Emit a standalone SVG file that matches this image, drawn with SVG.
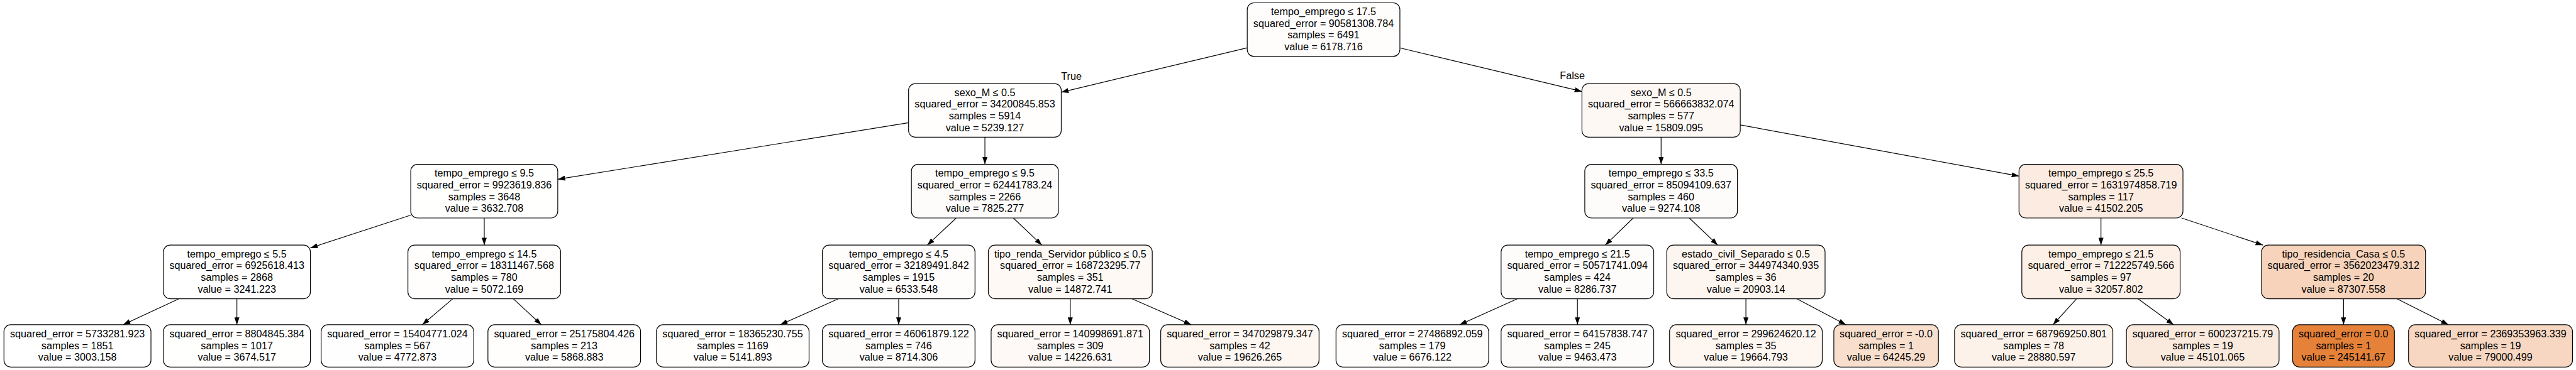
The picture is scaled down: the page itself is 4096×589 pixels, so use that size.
<svg xmlns="http://www.w3.org/2000/svg" width="4096" height="589" viewBox="0 0 4096 589">
<style>
.n rect{stroke:#000;stroke-width:1.3}
text{font-family:"Liberation Sans",Arial,Helvetica,sans-serif;font-size:18px;text-anchor:middle;fill:#000}
.e line{stroke:#000;stroke-width:1.3;marker-end:url(#ah)}
</style>
<defs>
<marker id="ah" markerUnits="userSpaceOnUse" markerWidth="13" markerHeight="9" refX="13" refY="4.5" orient="auto" viewBox="0 0 13 9"><path d="M0,0 L13,4.5 L0,9 z" fill="#000"/></marker>
</defs>
<rect width="4096" height="589" fill="#fff"/>
<g transform="scale(0.899)">
<g id="edges" class="e">
<line x1="2206" y1="84.7" x2="1877" y2="163.3"/>
<line x1="2476" y1="84.8" x2="2798" y2="162"/>
<line x1="1607" y1="217.3" x2="986.5" y2="317.5"/>
<line x1="1742" y1="243" x2="1742" y2="291"/>
<line x1="2938" y1="243" x2="2938" y2="291"/>
<line x1="3078" y1="221.2" x2="3571" y2="311.8"/>
<line x1="726.5" y1="381" x2="549" y2="439"/>
<line x1="856.5" y1="386" x2="856.5" y2="434"/>
<line x1="1691.4" y1="386" x2="1640.1" y2="434"/>
<line x1="1792.2" y1="386" x2="1842.8" y2="434"/>
<line x1="2888.8" y1="386" x2="2839.2" y2="434"/>
<line x1="2987.8" y1="386" x2="3038.2" y2="434"/>
<line x1="3716" y1="386" x2="3716" y2="434"/>
<line x1="3858.5" y1="386" x2="4002.5" y2="434"/>
<line x1="316.7" y1="529" x2="217.7" y2="575"/>
<line x1="419" y1="529" x2="419" y2="575"/>
<line x1="800.8" y1="529" x2="746.9" y2="575"/>
<line x1="907.8" y1="529" x2="957.5" y2="575"/>
<line x1="1483.1" y1="529" x2="1380" y2="575"/>
<line x1="1589.5" y1="529" x2="1589.5" y2="575"/>
<line x1="1893" y1="529" x2="1893" y2="575"/>
<line x1="2001.8" y1="529" x2="2107.1" y2="575"/>
<line x1="2684.1" y1="529" x2="2581.6" y2="575"/>
<line x1="2790" y1="529" x2="2790" y2="575"/>
<line x1="3088" y1="529" x2="3088" y2="575"/>
<line x1="3177.9" y1="529" x2="3265" y2="575"/>
<line x1="3672.9" y1="529" x2="3631.1" y2="575"/>
<line x1="3781.3" y1="529" x2="3844.5" y2="575"/>
<line x1="4145" y1="529" x2="4145" y2="575"/>
<line x1="4239.3" y1="529" x2="4330.6" y2="575"/>
<text x="1895" y="141">True</text>
<text x="2781" y="140">False</text>
</g>
<g id="n0" class="n"><rect x="2206" y="5" width="270" height="95" rx="12" fill="#fffdfc"/><text><tspan x="2341" y="26.8">tempo_emprego ≤ 17.5</tspan><tspan x="2341" y="47.6">squared_error = 90581308.784</tspan><tspan x="2341" y="68.4">samples = 6491</tspan><tspan x="2341" y="89.2">value = 6178.716</tspan></text></g>
<g id="n1" class="n"><rect x="1607" y="148" width="270" height="95" rx="12" fill="#fffefd"/><text><tspan x="1742" y="169.8">sexo_M ≤ 0.5</tspan><tspan x="1742" y="190.6">squared_error = 34200845.853</tspan><tspan x="1742" y="211.4">samples = 5914</tspan><tspan x="1742" y="232.2">value = 5239.127</tspan></text></g>
<g id="n2" class="n"><rect x="726.5" y="291" width="260" height="95" rx="12" fill="#fffffe"/><text><tspan x="856.5" y="312.8">tempo_emprego ≤ 9.5</tspan><tspan x="856.5" y="333.6">squared_error = 9923619.836</tspan><tspan x="856.5" y="354.4">samples = 3648</tspan><tspan x="856.5" y="375.2">value = 3632.708</tspan></text></g>
<g id="n3" class="n"><rect x="289" y="434" width="260" height="95" rx="12" fill="#ffffff"/><text><tspan x="419" y="455.8">tempo_emprego ≤ 5.5</tspan><tspan x="419" y="476.6">squared_error = 6925618.413</tspan><tspan x="419" y="497.4">samples = 2868</tspan><tspan x="419" y="518.2">value = 3241.223</tspan></text></g>
<g id="n4" class="n"><rect x="7" y="575" width="260" height="75" rx="12" fill="#ffffff"/><text><tspan x="137" y="597.2">squared_error = 5733281.923</tspan><tspan x="137" y="618">samples = 1851</tspan><tspan x="137" y="638.8">value = 3003.158</tspan></text></g>
<g id="n5" class="n"><rect x="289" y="575" width="260" height="75" rx="12" fill="#fffffe"/><text><tspan x="419" y="597.2">squared_error = 8804845.384</tspan><tspan x="419" y="618">samples = 1017</tspan><tspan x="419" y="638.8">value = 3674.517</tspan></text></g>
<g id="n6" class="n"><rect x="721.5" y="434" width="270" height="95" rx="12" fill="#fffefd"/><text><tspan x="856.5" y="455.8">tempo_emprego ≤ 14.5</tspan><tspan x="856.5" y="476.6">squared_error = 18311467.568</tspan><tspan x="856.5" y="497.4">samples = 780</tspan><tspan x="856.5" y="518.2">value = 5072.169</tspan></text></g>
<g id="n7" class="n"><rect x="568" y="575" width="270" height="75" rx="12" fill="#fffefe"/><text><tspan x="703" y="597.2">squared_error = 15404771.024</tspan><tspan x="703" y="618">samples = 567</tspan><tspan x="703" y="638.8">value = 4772.873</tspan></text></g>
<g id="n8" class="n"><rect x="863" y="575" width="270" height="75" rx="12" fill="#fffefd"/><text><tspan x="998" y="597.2">squared_error = 25175804.426</tspan><tspan x="998" y="618">samples = 213</tspan><tspan x="998" y="638.8">value = 5868.883</tspan></text></g>
<g id="n9" class="n"><rect x="1612" y="291" width="260" height="95" rx="12" fill="#fefcfb"/><text><tspan x="1742" y="312.8">tempo_emprego ≤ 9.5</tspan><tspan x="1742" y="333.6">squared_error = 62441783.24</tspan><tspan x="1742" y="354.4">samples = 2266</tspan><tspan x="1742" y="375.2">value = 7825.277</tspan></text></g>
<g id="n10" class="n"><rect x="1454.5" y="434" width="270" height="95" rx="12" fill="#fffdfc"/><text><tspan x="1589.5" y="455.8">tempo_emprego ≤ 4.5</tspan><tspan x="1589.5" y="476.6">squared_error = 32189491.842</tspan><tspan x="1589.5" y="497.4">samples = 1915</tspan><tspan x="1589.5" y="518.2">value = 6533.548</tspan></text></g>
<g id="n11" class="n"><rect x="1161" y="575" width="270" height="75" rx="12" fill="#fffefd"/><text><tspan x="1296" y="597.2">squared_error = 18365230.755</tspan><tspan x="1296" y="618">samples = 1169</tspan><tspan x="1296" y="638.8">value = 5141.893</tspan></text></g>
<g id="n12" class="n"><rect x="1454.5" y="575" width="270" height="75" rx="12" fill="#fefcfa"/><text><tspan x="1589.5" y="597.2">squared_error = 46061879.122</tspan><tspan x="1589.5" y="618">samples = 746</tspan><tspan x="1589.5" y="638.8">value = 8714.306</tspan></text></g>
<g id="n13" class="n"><rect x="1748" y="434" width="290" height="95" rx="12" fill="#fef9f5"/><text><tspan x="1893" y="455.8">tipo_renda_Servidor público ≤ 0.5</tspan><tspan x="1893" y="476.6">squared_error = 168723295.77</tspan><tspan x="1893" y="497.4">samples = 351</tspan><tspan x="1893" y="518.2">value = 14872.741</tspan></text></g>
<g id="n14" class="n"><rect x="1753" y="575" width="280" height="75" rx="12" fill="#fef9f6"/><text><tspan x="1893" y="597.2">squared_error = 140998691.871</tspan><tspan x="1893" y="618">samples = 309</tspan><tspan x="1893" y="638.8">value = 14226.631</tspan></text></g>
<g id="n15" class="n"><rect x="2053" y="575" width="280" height="75" rx="12" fill="#fdf6f1"/><text><tspan x="2193" y="597.2">squared_error = 347029879.347</tspan><tspan x="2193" y="618">samples = 42</tspan><tspan x="2193" y="638.8">value = 19626.265</tspan></text></g>
<g id="n16" class="n"><rect x="2798" y="148" width="280" height="95" rx="12" fill="#fef8f5"/><text><tspan x="2938" y="169.8">sexo_M ≤ 0.5</tspan><tspan x="2938" y="190.6">squared_error = 566663832.074</tspan><tspan x="2938" y="211.4">samples = 577</tspan><tspan x="2938" y="232.2">value = 15809.095</tspan></text></g>
<g id="n17" class="n"><rect x="2803" y="291" width="270" height="95" rx="12" fill="#fefcfa"/><text><tspan x="2938" y="312.8">tempo_emprego ≤ 33.5</tspan><tspan x="2938" y="333.6">squared_error = 85094109.637</tspan><tspan x="2938" y="354.4">samples = 460</tspan><tspan x="2938" y="375.2">value = 9274.108</tspan></text></g>
<g id="n18" class="n"><rect x="2655" y="434" width="270" height="95" rx="12" fill="#fefcfb"/><text><tspan x="2790" y="455.8">tempo_emprego ≤ 21.5</tspan><tspan x="2790" y="476.6">squared_error = 50571741.094</tspan><tspan x="2790" y="497.4">samples = 424</tspan><tspan x="2790" y="518.2">value = 8286.737</tspan></text></g>
<g id="n19" class="n"><rect x="2363" y="575" width="270" height="75" rx="12" fill="#fffdfc"/><text><tspan x="2498" y="597.2">squared_error = 27486892.059</tspan><tspan x="2498" y="618">samples = 179</tspan><tspan x="2498" y="638.8">value = 6676.122</tspan></text></g>
<g id="n20" class="n"><rect x="2655" y="575" width="270" height="75" rx="12" fill="#fefcfa"/><text><tspan x="2790" y="597.2">squared_error = 64157838.747</tspan><tspan x="2790" y="618">samples = 245</tspan><tspan x="2790" y="638.8">value = 9463.473</tspan></text></g>
<g id="n21" class="n"><rect x="2948" y="434" width="280" height="95" rx="12" fill="#fdf6f0"/><text><tspan x="3088" y="455.8">estado_civil_Separado ≤ 0.5</tspan><tspan x="3088" y="476.6">squared_error = 344974340.935</tspan><tspan x="3088" y="497.4">samples = 36</tspan><tspan x="3088" y="518.2">value = 20903.14</tspan></text></g>
<g id="n22" class="n"><rect x="2953" y="575" width="270" height="75" rx="12" fill="#fdf6f1"/><text><tspan x="3088" y="597.2">squared_error = 299624620.12</tspan><tspan x="3088" y="618">samples = 35</tspan><tspan x="3088" y="638.8">value = 19664.793</tspan></text></g>
<g id="n23" class="n"><rect x="3243.5" y="575" width="185" height="75" rx="12" fill="#f8dfcd"/><text><tspan x="3336" y="597.2">squared_error = -0.0</tspan><tspan x="3336" y="618">samples = 1</tspan><tspan x="3336" y="638.8">value = 64245.29</tspan></text></g>
<g id="n24" class="n"><rect x="3571" y="291" width="290" height="95" rx="12" fill="#fbebe0"/><text><tspan x="3716" y="312.8">tempo_emprego ≤ 25.5</tspan><tspan x="3716" y="333.6">squared_error = 1631974858.719</tspan><tspan x="3716" y="354.4">samples = 117</tspan><tspan x="3716" y="375.2">value = 41502.205</tspan></text></g>
<g id="n25" class="n"><rect x="3576" y="434" width="280" height="95" rx="12" fill="#fcf0e7"/><text><tspan x="3716" y="455.8">tempo_emprego ≤ 21.5</tspan><tspan x="3716" y="476.6">squared_error = 712225749.566</tspan><tspan x="3716" y="497.4">samples = 97</tspan><tspan x="3716" y="518.2">value = 32057.802</tspan></text></g>
<g id="n26" class="n"><rect x="3457" y="575" width="280" height="75" rx="12" fill="#fcf2ea"/><text><tspan x="3597" y="597.2">squared_error = 687969250.801</tspan><tspan x="3597" y="618">samples = 78</tspan><tspan x="3597" y="638.8">value = 28880.597</tspan></text></g>
<g id="n27" class="n"><rect x="3761" y="575" width="270" height="75" rx="12" fill="#fae9dd"/><text><tspan x="3896" y="597.2">squared_error = 600237215.79</tspan><tspan x="3896" y="618">samples = 19</tspan><tspan x="3896" y="638.8">value = 45101.065</tspan></text></g>
<g id="n28" class="n"><rect x="4000" y="434" width="290" height="95" rx="12" fill="#f6d3ba"/><text><tspan x="4145" y="455.8">tipo_residencia_Casa ≤ 0.5</tspan><tspan x="4145" y="476.6">squared_error = 3562023479.312</tspan><tspan x="4145" y="497.4">samples = 20</tspan><tspan x="4145" y="518.2">value = 87307.558</tspan></text></g>
<g id="n29" class="n"><rect x="4055" y="575" width="180" height="75" rx="12" fill="#e58139"/><text><tspan x="4145" y="597.2">squared_error = 0.0</tspan><tspan x="4145" y="618">samples = 1</tspan><tspan x="4145" y="638.8">value = 245141.67</tspan></text></g>
<g id="n30" class="n"><rect x="4260" y="575" width="290" height="75" rx="12" fill="#f7d7c1"/><text><tspan x="4405" y="597.2">squared_error = 2369353963.339</tspan><tspan x="4405" y="618">samples = 19</tspan><tspan x="4405" y="638.8">value = 79000.499</tspan></text></g>
</g>
</svg>
